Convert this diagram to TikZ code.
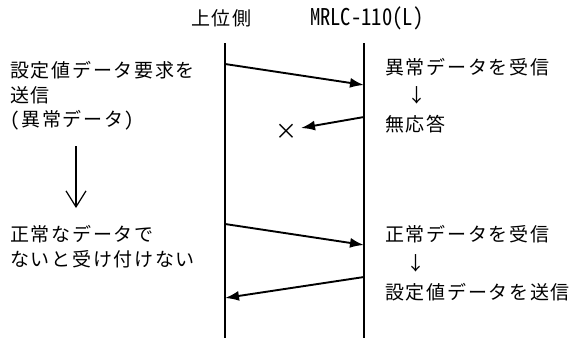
\documentclass[tikz,border=0pt]{standalone}
\usepackage{fontspec}
\usetikzlibrary{arrows.meta}
\setmainfont{Noto Sans CJK JP}
\newfontfamily\jpfont[LetterSpace=9,RawFeature=+hwid]{Noto Sans CJK JP}
\newfontfamily\hdmono[RawFeature=+hwid]{Noto Sans CJK JP}
\begin{document}
\begin{tikzpicture}[x=1pt,y=-1pt,
  txt/.style={inner sep=0pt,font=\jpfont\fontsize{19}{19}\selectfont},
  ltxt/.style={txt,anchor=west},
  lifeline/.style={line width=1.9pt},
  msg/.style={line width=1.9pt,-{Latex[length=14pt,width=10pt]}},
  flow/.style={line width=1.2pt,-{Straight Barb[length=16pt,width=20pt,line width=1.2pt]}}]
\useasboundingbox[fill=white] (0,0) rectangle (577,338);
% headers
\node[txt] (hA) at (221.5,18) {上位側};
\node[inner sep=0pt] (hB) at (366.7,18) {\scalebox{1}[1.12]{\hdmono\fontsize{20.6}{20.6}\selectfont MRLC-110(L)}};
% lifelines
\coordinate (Atop) at (225,43);
\coordinate (Abot) at (225,338);
\coordinate (Btop) at (364,43);
\coordinate (Bbot) at (364,338);
\draw[lifeline] (Atop) -- (Abot);
\draw[lifeline] (Btop) -- (Bbot);
% left texts
\node[ltxt] (l1) at (10,70) {設定値データ要求を};
\node[ltxt] (l2) at (10,95) {送信};
\node[ltxt] (l3) at (10,120) {(異常データ)};
\node[ltxt] (l4) at (10,234) {正常なデータで};
\node[ltxt] (l5) at (10,259) {ないと受け付けない};
% right texts
\node[ltxt] (r1) at (385,67) {異常データを受信};
\node[txt] (r2) at (417,95) {↓};
\node[ltxt] (r3) at (385,124) {無応答};
\node[ltxt] (r4) at (385,234) {正常データを受信};
\node[txt] (r5) at (416,263) {↓};
\node[ltxt] (r6) at (385,292) {設定値データを送信};
% cross
\node[txt,font=\jpfont\fontsize{22}{22}\selectfont] (xx) at (286,132) {×};
% flow arrow
\coordinate (fs) at (76,146);
\coordinate (fe) at (76,208);
\draw[flow] (fs) -- (fe);
% messages
\coordinate (m1s) at (225,64);
\coordinate (m1e) at (364,85);
\coordinate (m2s) at (364,117);
\coordinate (m2e) at (301,128);
\coordinate (m3s) at (225,224);
\coordinate (m3e) at (364,245);
\coordinate (m4s) at (364,277);
\coordinate (m4e) at (225,298);
\draw[msg] (m1s) -- (m1e);
\draw[msg] (m2s) -- (m2e);
\draw[msg] (m3s) -- (m3e);
\draw[msg] (m4s) -- (m4e);
\end{tikzpicture}
\end{document}
